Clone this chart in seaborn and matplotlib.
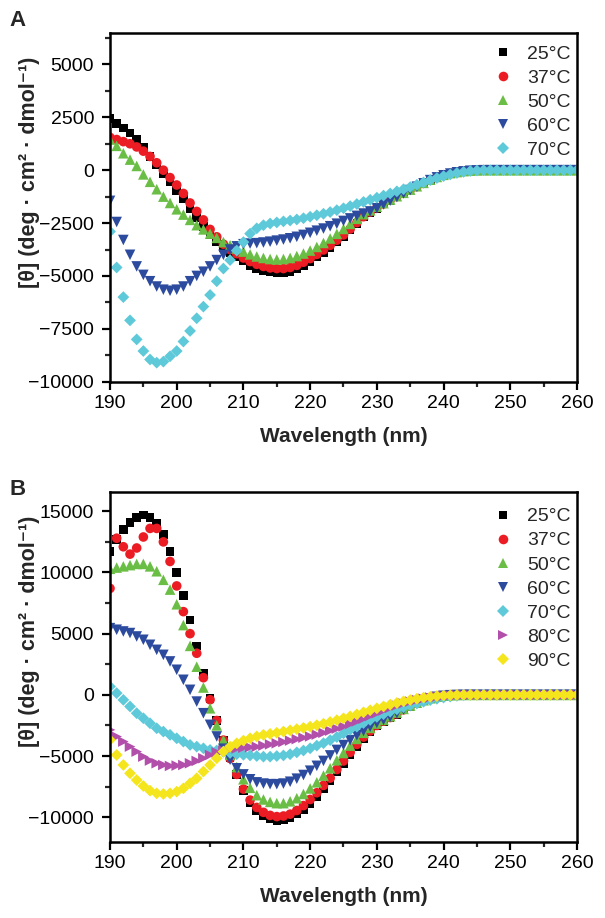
import matplotlib
matplotlib.use("Agg")
import matplotlib.pyplot as plt
import pandas as pd
import seaborn as sns
from matplotlib.ticker import MultipleLocator

# ---------------- data ----------------
wavelength = list(range(190, 261))

a_25 = [2450, 2200, 2000, 1750, 1450, 1100, 650, 250, -150, -550,
        -950, -1350, -1800, -2250, -2650, -3050, -3400, -3650, -3900, -4100,
        -4300, -4500, -4650, -4750, -4820, -4850, -4850, -4780, -4650, -4500,
        -4320, -4100, -3880, -3650, -3400, -3140, -2830, -2520, -2220, -2000,
        -1800, -1600, -1420, -1250, -1090, -940, -780, -620, -470, -340,
        -240, -160, -100, -55, -25, -10, 0, 0, 0, 0,
        0, 0, 0, 0, 0, 0, 0, 0, 0, 0, 0]
a_37 = [1550, 1450, 1350, 1250, 1100, 900, 650, 350, 0, -350,
        -700, -1100, -1550, -1950, -2350, -2800, -3150, -3500, -3750, -3950,
        -4150, -4320, -4450, -4550, -4620, -4650, -4650, -4600, -4500, -4350,
        -4180, -3980, -3770, -3550, -3310, -3060, -2780, -2480, -2200, -1980,
        -1780, -1590, -1410, -1240, -1080, -930, -770, -610, -460, -330,
        -230, -150, -95, -50, -20, -5, 0, 0, 0, 0,
        0, 0, 0, 0, 0, 0, 0, 0, 0, 0, 0]
a_50 = [1450, 1150, 800, 500, 200, -200, -550, -900, -1250, -1550,
        -1850, -2100, -2350, -2600, -2800, -3000, -3200, -3400, -3550, -3700,
        -3850, -3980, -4080, -4150, -4200, -4220, -4200, -4150, -4060, -3940,
        -3800, -3630, -3440, -3230, -3010, -2780, -2540, -2300, -2080, -1900,
        -1730, -1560, -1390, -1230, -1070, -920, -760, -600, -450, -320,
        -220, -140, -90, -45, -20, -5, 0, 0, 0, 0,
        0, 0, 0, 0, 0, 0, 0, 0, 0, 0, 0]
a_60 = [-1450, -2450, -3300, -4000, -4550, -4950, -5250, -5500, -5650, -5700,
        -5650, -5500, -5250, -5000, -4800, -4550, -4250, -4000, -3750, -3600,
        -3500, -3470, -3450, -3420, -3380, -3330, -3280, -3220, -3150, -3060,
        -2960, -2860, -2760, -2650, -2530, -2400, -2280, -2160, -2050, -1950,
        -1800, -1620, -1440, -1270, -1100, -940, -780, -620, -470, -340,
        -240, -160, -100, -55, -25, -10, 0, 0, 0, 0,
        0, 0, 0, 0, 0, 0, 0, 0, 0, 0, 0]
a_70 = [-2900, -4600, -6000, -7100, -8000, -8550, -8950, -9100, -9050, -8800,
        -8550, -8100, -7600, -7000, -6450, -5900, -5250, -4650, -4250, -3800,
        -3400, -3000, -2750, -2600, -2520, -2470, -2420, -2380, -2330, -2270,
        -2200, -2130, -2060, -1980, -1890, -1800, -1700, -1600, -1500, -1400,
        -1300, -1200, -1100, -1000, -900, -800, -690, -580, -470, -370,
        -280, -200, -130, -80, -40, -15, 0, 0, 0, 0,
        0, 0, 0, 0, 0, 0, 0, 0, 0, 0, 0]

b_25 = [11700, 12700, 13500, 14100, 14500, 14700, 14500, 14000, 13100, 11700,
        10000, 8100, 6100, 4000, 1800, -300, -2100, -3700, -5100, -6500,
        -7800, -8800, -9500, -9900, -10150, -10250, -10200, -10050, -9750, -9350,
        -8870, -8300, -7700, -7050, -6300, -5600, -4900, -4200, -3550, -3000,
        -2550, -2200, -1900, -1600, -1250, -950, -700, -480, -300, -170,
        -80, -30, -10, 0, 0, 0, 0, 0, 0, 0,
        0, 0, 0, 0, 0, 0, 0, 0, 0, 0, 0]
b_37 = [8700, 12800, 12100, 11500, 12000, 12900, 13600, 13600, 12500, 10900,
        8900, 6800, 5000, 3400, 1400, -400, -2100, -3700, -5200, -6500,
        -7700, -8600, -9200, -9600, -9850, -9950, -9900, -9750, -9450, -9050,
        -8550, -8000, -7400, -6800, -6100, -5400, -4700, -4050, -3450, -2950,
        -2500, -2150, -1850, -1550, -1220, -930, -680, -470, -290, -160,
        -75, -30, -10, 0, 0, 0, 0, 0, 0, 0,
        0, 0, 0, 0, 0, 0, 0, 0, 0, 0, 0]
b_50 = [10300, 10400, 10500, 10600, 10700, 10700, 10500, 10100, 9400, 8600,
        7400, 5700, 4000, 2300, 600, -1100, -2500, -3700, -4900, -5900,
        -6900, -7600, -8200, -8550, -8750, -8850, -8850, -8700, -8450, -8100,
        -7650, -7150, -6600, -6000, -5350, -4750, -4150, -3600, -3100, -2700,
        -2350, -2050, -1750, -1450, -1150, -880, -640, -440, -280, -150,
        -70, -25, -10, 0, 0, 0, 0, 0, 0, 0,
        0, 0, 0, 0, 0, 0, 0, 0, 0, 0, 0]
b_60 = [5450, 5320, 5180, 5050, 4770, 4500, 4090, 3680, 3270, 2730,
        2050, 1230, 410, -550, -1500, -2450, -3400, -4400, -5300, -6000,
        -6500, -6900, -7150, -7250, -7300, -7300, -7250, -7100, -6850, -6550,
        -6200, -5800, -5400, -4950, -4500, -4100, -3700, -3300, -2950, -2600,
        -2300, -2050, -1800, -1500, -1200, -920, -670, -460, -290, -160,
        -75, -30, -10, 0, 0, 0, 0, 0, 0, 0,
        0, 0, 0, 0, 0, 0, 0, 0, 0, 0, 0]
b_70 = [680, 140, -410, -950, -1500, -1910, -2320, -2730, -3000, -3270,
        -3550, -3820, -4090, -4230, -4370, -4500, -4550, -4650, -4750, -4850,
        -4900, -4950, -5000, -5050, -5050, -5000, -4950, -4850, -4700, -4550,
        -4370, -4150, -3950, -3700, -3450, -3150, -2850, -2600, -2300, -2050,
        -1800, -1580, -1380, -1180, -1000, -850, -700, -560, -430, -320,
        -220, -140, -80, -40, -15, 0, 0, 0, 0, 0,
        0, 0, 0, 0, 0, 0, 0, 0, 0, 0, 0]
b_80 = [-2860, -3410, -3820, -4230, -4640, -5050, -5370, -5590, -5730, -5810,
        -5780, -5730, -5590, -5400, -5180, -4910, -4700, -4550, -4450, -4380,
        -4320, -4280, -4240, -4150, -4050, -3960, -3850, -3740, -3620, -3500,
        -3400, -3250, -3100, -2930, -2760, -2590, -2380, -2170, -1950, -1720,
        -1500, -1280, -1060, -870, -700, -550, -420, -310, -220, -150,
        -90, -50, -20, 0, 0, 0, 0, 0, 0, 0,
        0, 0, 0, 0, 0, 0, 0, 0, 0, 0, 0]
b_90 = [-3680, -4910, -5730, -6410, -6960, -7450, -7830, -8050, -8100, -8050,
        -7910, -7640, -7230, -6820, -6270, -5730, -5180, -4640, -4230, -3960,
        -3740, -3550, -3400, -3270, -3190, -3100, -3000, -2900, -2800, -2700,
        -2600, -2480, -2360, -2220, -2070, -1920, -1760, -1600, -1430, -1260,
        -1100, -950, -800, -660, -530, -420, -320, -230, -160, -100,
        -60, -30, -10, 0, 0, 0, 0, 0, 0, 0,
        0, 0, 0, 0, 0, 0, 0, 0, 0, 0, 0]

temps_a = ["25°C", "37°C", "50°C", "60°C", "70°C"]
temps_b = ["25°C", "37°C", "50°C", "60°C", "70°C", "80°C", "90°C"]
series_a = [a_25, a_37, a_50, a_60, a_70]
series_b = [b_25, b_37, b_50, b_60, b_70, b_80, b_90]

ylabel_text = "[θ] (deg · cm² · dmol⁻¹)"
xlabel_text = "Wavelength (nm)"

# ---------------- styles ----------------
colors = {"25°C": "#000000", "37°C": "#EC1C24", "50°C": "#6BBE45",
          "60°C": "#2D4B9E", "70°C": "#5EC9D8", "80°C": "#B14FAA",
          "90°C": "#F4E51C"}
markers = {"25°C": "s", "37°C": "o", "50°C": "^", "60°C": "v",
           "70°C": "D", "80°C": ">", "90°C": "D"}
sizes = {"25°C": 38, "37°C": 48, "50°C": 58, "60°C": 58,
         "70°C": 36, "80°C": 58, "90°C": 36}

sns.set_style("ticks")
plt.rcParams["font.family"] = ["Liberation Sans", "DejaVu Sans"]
plt.rcParams["axes.unicode_minus"] = True


def long_df(temps, series):
    frames = []
    for t, vals in zip(temps, series):
        frames.append(pd.DataFrame({"wl": wavelength, "theta": vals, "T": t}))
    return pd.concat(frames, ignore_index=True)


fig = plt.figure(figsize=(6.05, 9.18), dpi=100)
ax_a = fig.add_axes([110 / 605, 1 - 381.7 / 918, 467 / 605, 349 / 918])
ax_b = fig.add_axes([110 / 605, 1 - 841.7 / 918, 467 / 605, 350 / 918])


def draw(ax, temps, series, ylim, major, minor, leg_y):
    df = long_df(temps, series)
    sns.scatterplot(data=df, x="wl", y="theta", hue="T", style="T", size="T",
                    hue_order=temps, style_order=temps, size_order=temps,
                    palette={t: colors[t] for t in temps},
                    markers={t: markers[t] for t in temps},
                    sizes={t: sizes[t] for t in temps},
                    linewidth=0, edgecolor="none", ax=ax, legend="full")
    ax.set_xlim(190, 260)
    ax.set_ylim(*ylim)
    ax.xaxis.set_major_locator(MultipleLocator(10))
    ax.xaxis.set_minor_locator(MultipleLocator(5))
    ax.yaxis.set_major_locator(MultipleLocator(major))
    ax.yaxis.set_minor_locator(MultipleLocator(minor))
    for sp in ax.spines.values():
        sp.set_visible(True)
        sp.set_linewidth(1.8)
        sp.set_color("black")
    ax.tick_params(which="major", direction="out", length=5.5, width=1.6,
                   labelsize=14, pad=4, colors="black")
    ax.tick_params(axis="y", which="major", pad=6)
    ax.tick_params(which="minor", direction="out", length=3.5, width=1.6)
    ax.set_xlabel(xlabel_text, fontsize=15, fontweight="bold", labelpad=11)
    ax.set_ylabel(ylabel_text, fontsize=15.5, fontweight="bold")
    ax.yaxis.set_label_coords(-0.150, 0.60)

    handles, labels = ax.get_legend_handles_labels()
    keep = [(h, l) for h, l in zip(handles, labels) if l in temps]
    hs = [k[0] for k in keep]
    ls = [k[1] for k in keep]
    for h in hs:
        try:
            h.set_markeredgewidth(0)
        except AttributeError:
            h.set_linewidth(0)
    ax.legend(hs, ls, loc="upper right", bbox_to_anchor=(0.995, leg_y),
              frameon=False, fontsize=14, handlelength=1.0,
              handletextpad=0.75, labelspacing=0.33, borderaxespad=0,
              borderpad=0.2)


draw(ax_a, temps_a, series_a, (-10000, 6500), 2500, 1250, 0.975)
draw(ax_b, temps_b, series_b, (-12000, 16600), 5000, 2500, 0.965)

fig.text(18 / 605, 1 - 21 / 918, "A", fontsize=16, fontweight="bold",
         ha="center", va="center")
fig.text(18 / 605, 1 - 490 / 918, "B", fontsize=16, fontweight="bold",
         ha="center", va="center")

fig.savefig("out.png", dpi=100)
